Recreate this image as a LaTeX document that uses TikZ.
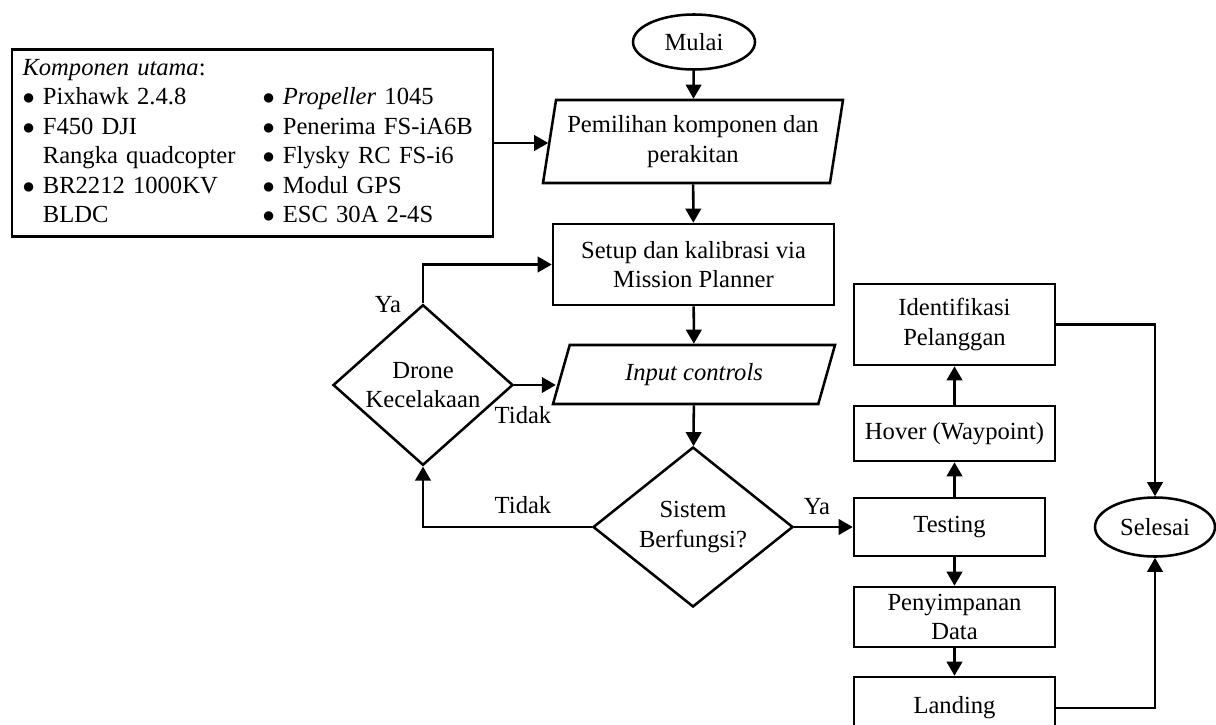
\documentclass[tikz,border=0pt]{standalone}
\usepackage{fontspec}
\setmainfont{Liberation Serif}
\usetikzlibrary{shapes.geometric,arrows.meta}
\newcommand{\titik}{$\bullet$}

\begin{document}
\begin{tikzpicture}[
    line width=1.8pt,
    font=\fontsize{17.5}{21}\selectfont,
    arr/.style={-{Triangle[length=10pt,width=11pt]}},
    kotak/.style={draw, rectangle, align=center, inner sep=2pt},
    terminal/.style={draw, ellipse, inner sep=1pt},
    io/.style={draw, trapezium, trapezium stretches body=true, align=center, inner xsep=1pt},
    keputusan/.style={draw, diamond, align=center, inner sep=0pt}]
    \useasboundingbox (0,0) rectangle (30.4,-18.1);
    % komponen
    \node[draw, text width=11.5cm, inner xsep=0.26cm, minimum height=4.65cm] (komp) at (6.3125,-3.575) {%
        \begin{tabular}{@{}p{6.0cm}@{}l@{}}
        \multicolumn{2}{@{}l}{\textit{Komponen utama}:}\\
        \titik\ Pixhawk 2.4.8 & \titik\ \textit{Propeller} 1045\\
        \titik\ F450 DJI & \titik\ Penerima FS-iA6B\\
        \phantom{\titik\ }Rangka quadcopter & \titik\ Flysky RC FS-i6\\
        \titik\ BR2212 1000KV & \titik\ Modul GPS\\
        \phantom{\titik\ }BLDC & \titik\ ESC 30A 2-4S
        \end{tabular}};
    % alur utama
    \node[terminal, minimum width=3.05cm, minimum height=1.375cm] (mulai) at (17.35,-1.05) {Mulai};
    \node[io, inner ysep=0.38cm, trapezium left angle=81, trapezium right angle=99, minimum width=7.5cm, minimum height=2.075cm] (pilih) at (17.325,-3.5375) {Pemilihan komponen dan\\perakitan};
    \node[kotak, minimum width=7.025cm, minimum height=2.025cm] (setup) at (17.3375,-6.6125) {Setup dan kalibrasi via\\Mission Planner};
    \node[io, inner ysep=0.45cm, trapezium left angle=74, trapezium right angle=106, minimum width=7.05cm, minimum height=1.475cm] (input) at (17.35,-9.3625) {\textit{Input controls}};
    \node[keputusan, minimum width=5cm, minimum height=4cm] (sistem) at (17.325,-13.175) {Sistem\\Berfungsi?};
    \node[keputusan, minimum width=4.5cm, minimum height=3.5cm] (drone) at (10.575,-9.625) {Drone\\Kecelakaan};
    % kolom kanan
    \node[kotak, minimum width=5.025cm, minimum height=2.025cm] (ident) at (23.8625,-8.1125) {Identifikasi\\Pelanggan};
    \node[kotak, minimum width=5.025cm, minimum height=1.375cm] (hover) at (23.8625,-10.8375) {Hover (Waypoint)};
    \node[kotak, minimum width=4.775cm, minimum height=1.45cm] (testing) at (23.7375,-13.175) {Testing};
    \node[kotak, minimum width=5.025cm, minimum height=1.5cm] (simpan) at (23.8625,-15.425) {Penyimpanan\\[-1pt]Data};
    \node[kotak, minimum width=5.025cm, minimum height=1.55cm] (landing) at (23.8625,-17.7) {Landing};
    \node[terminal, minimum width=3cm, minimum height=1.475cm] (selesai) at (28.875,-13.175) {Selesai};
    % panah
    \draw[arr] (komp.east) -- (komp.east -| pilih.west);
    \draw[arr] (mulai) -- (pilih);
    \draw[arr] (pilih) -- (setup);
    \draw[arr] (setup) -- (input);
    \draw[arr] (input) -- (sistem);
    \draw[arr] (sistem.west) -| (drone.south);
    \draw[arr] (drone.north) |- (setup.west);
    \draw[arr] (drone.east) -- ([xshift=-3pt]drone.east -| input.west);
    \draw[arr] (sistem.east) -- (sistem.east -| testing.west);
    \draw[arr] (hover.south |- testing.north) -- (hover.south);
    \draw[arr] (hover) -- (ident);
    \draw[arr] (simpan.north |- testing.south) -- (simpan.north);
    \draw[arr] (simpan) -- (landing);
    \draw[arr] (ident.east) -| (selesai.north);
    \draw[arr] (landing.east) -| (selesai.south);
    % label
    \node (ya1) at (9.7,-7.625) {Ya};
    \node (tidak1) at (13.075,-10.375) {Tidak};
    \node (tidak2) at (13.075,-12.625) {Tidak};
    \node (ya2) at (20.425,-12.675) {Ya};
\end{tikzpicture}
\end{document}
